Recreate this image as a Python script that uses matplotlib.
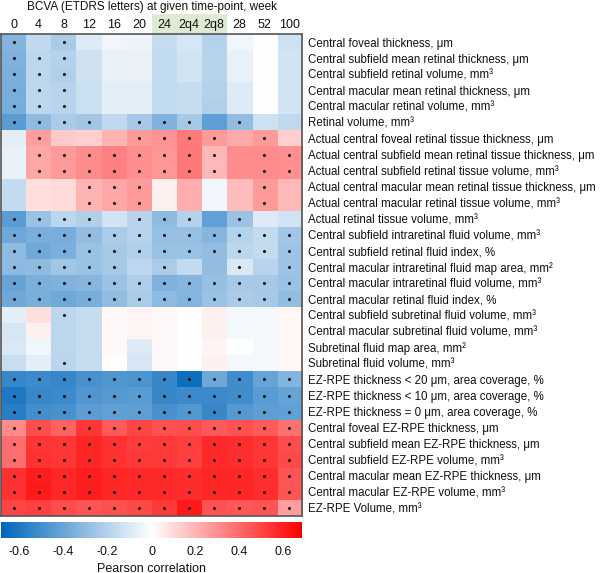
import numpy as np
import matplotlib.pyplot as plt
from matplotlib.colors import LinearSegmentedColormap
from matplotlib.patches import Rectangle

plt.rcParams['font.family'] = ['Liberation Sans', 'DejaVu Sans']

# time points (weeks) - 24/2q4/2q8 get the green header
weeks = ['0', '4', '8', '12', '16', '20', '24', '2q4', '2q8', '28', '52', '100']

# --- retinal thickness / volume ---
retina_labels = [
    'Central foveal thickness, μm',
    'Central subfield mean retinal thickness, μm',
    'Central subfield retinal volume, mm³',
    'Central macular mean retinal thickness, μm',
    'Central macular retinal volume, mm³',
    'Retinal volume, mm³',
]
retina_r = [
    [-0.33, -0.17, -0.23, -0.09, -0.04, -0.05, -0.15, -0.11, -0.20, -0.04, 0.01, -0.13],
    [-0.34, -0.18, -0.20, -0.13, -0.06, -0.06, -0.16, -0.12, -0.19, -0.06, 0.01, -0.12],
    [-0.35, -0.18, -0.21, -0.13, -0.06, -0.06, -0.16, -0.12, -0.19, -0.06, 0.01, -0.12],
    [-0.36, -0.18, -0.19, -0.14, -0.07, -0.07, -0.16, -0.15, -0.20, -0.09, -0.01, -0.12],
    [-0.36, -0.18, -0.19, -0.14, -0.07, -0.07, -0.16, -0.15, -0.21, -0.09, -0.01, -0.12],
    [-0.44, -0.30, -0.23, -0.25, -0.17, -0.24, -0.34, -0.24, -0.43, -0.29, -0.13, -0.17],
]
retina_sig = [[0, 2], [0, 1, 2], [0, 1, 2], [0, 1, 2], [0, 1, 2],
              [0, 1, 2, 3, 5, 6, 7, 9]]

# --- actual retinal tissue ---
tissue_labels = [
    'Actual central foveal retinal tissue thickness, μm',
    'Actual central subfield mean retinal tissue thickness, μm',
    'Actual central subfield retinal tissue volume, mm³',
    'Actual central macular mean retinal tissue thickness, μm',
    'Actual central macular retinal tissue volume, mm³',
    'Actual retinal tissue volume, mm³',
]
tissue_r = [
    [-0.07, 0.26, 0.14, 0.13, 0.20, 0.27, 0.29, 0.355, 0.27, 0.23, 0.27, 0.13],
    [-0.06, 0.24, 0.27, 0.31, 0.34, 0.30, 0.28, 0.36, 0.19, 0.31, 0.31, 0.30],
    [-0.06, 0.24, 0.27, 0.31, 0.34, 0.30, 0.28, 0.36, 0.19, 0.31, 0.31, 0.30],
    [-0.16, 0.09, 0.10, 0.20, 0.24, 0.27, 0.04, 0.22, -0.04, 0.18, 0.27, 0.19],
    [-0.16, 0.09, 0.10, 0.20, 0.24, 0.27, 0.04, 0.22, -0.04, 0.18, 0.27, 0.19],
    [-0.44, -0.27, -0.18, -0.21, -0.12, -0.19, -0.30, -0.20, -0.42, -0.27, -0.09, -0.12],
]
tissue_sig = [[1, 5, 6, 7, 8, 10],
              [1, 2, 3, 4, 5, 6, 7, 8, 10, 11],
              [1, 2, 3, 4, 5, 6, 7, 8, 10, 11],
              [3, 4, 5, 10], [3, 4, 5, 10],
              [0, 1, 2, 3, 5, 6, 7, 9]]

# --- intraretinal fluid ---
irf_labels = [
    'Central subfield intraretinal fluid volume, mm³',
    'Central subfield retinal fluid index, %',
    'Central macular intraretinal fluid map area, mm²',
    'Central macular intraretinal fluid volume, mm³',
    'Central macular retinal fluid index, %',
]
irf_r = [
    [-0.39, -0.355, -0.36, -0.29, -0.23, -0.19, -0.28, -0.28, -0.325, -0.20, -0.16, -0.25],
    [-0.30, -0.38, -0.35, -0.27, -0.24, -0.21, -0.27, -0.27, -0.29, -0.18, -0.16, -0.26],
    [-0.31, -0.30, -0.25, -0.27, -0.24, -0.18, -0.23, -0.16, -0.29, -0.10, -0.19, -0.26],
    [-0.41, -0.35, -0.34, -0.325, -0.27, -0.215, -0.34, -0.325, -0.28, -0.24, -0.24, -0.27],
    [-0.38, -0.355, -0.39, -0.36, -0.29, -0.23, -0.31, -0.33, -0.27, -0.23, -0.24, -0.29],
]
irf_sig = [list(range(12)), list(range(12)), [0, 1, 2, 3, 4, 6, 9, 11],
           list(range(12)), list(range(12))]

# --- subretinal fluid ---
srf_labels = [
    'Central subfield subretinal fluid volume, mm³',
    'Central macular subretinal fluid volume, mm³',
    'Subretinal fluid map area, mm²',
    'Subretinal fluid volume, mm³',
]
srf_r = [
    [-0.07, 0.09, -0.18, -0.15, 0.02, 0.03, 0.02, 0.0, 0.04, -0.03, -0.03, 0.025],
    [-0.11, 0.04, -0.18, -0.15, 0.02, 0.03, 0.02, 0.0, 0.04, -0.03, -0.03, 0.025],
    [-0.10, -0.04, -0.18, -0.15, 0.02, -0.09, 0.02, 0.0, 0.03, 0.0, -0.03, 0.025],
    [-0.145, -0.07, -0.185, -0.15, 0.01, -0.11, 0.02, 0.0, 0.04, -0.03, -0.03, 0.025],
]
srf_sig = [[2], [], [], [2]]

# --- EZ-RPE ---
ez_labels = [
    'EZ-RPE thickness < 20 μm, area coverage, %',
    'EZ-RPE thickness < 10 μm, area coverage, %',
    'EZ-RPE thickness = 0 μm, area coverage, %',
    'Central foveal EZ-RPE thickness, μm',
    'Central subfield mean EZ-RPE thickness, μm',
    'Central subfield EZ-RPE volume, mm³',
    'Central macular mean EZ-RPE thickness, μm',
    'Central macular EZ-RPE volume, mm³',
    'EZ-RPE Volume, mm³',
]
ez_r = [
    [-0.53, -0.52, -0.54, -0.49, -0.47, -0.48, -0.53, -0.645, -0.39, -0.51, -0.41, -0.33],
    [-0.60, -0.53, -0.52, -0.47, -0.45, -0.44, -0.53, -0.52, -0.52, -0.505, -0.44, -0.41],
    [-0.575, -0.50, -0.49, -0.435, -0.42, -0.43, -0.49, -0.465, -0.53, -0.45, -0.43, -0.42],
    [0.315, 0.48, 0.42, 0.54, 0.44, 0.50, 0.47, 0.48, 0.44, 0.465, 0.44, 0.38],
    [0.39, 0.545, 0.54, 0.58, 0.55, 0.52, 0.53, 0.515, 0.57, 0.56, 0.54, 0.48],
    [0.39, 0.55, 0.54, 0.58, 0.55, 0.525, 0.525, 0.51, 0.57, 0.56, 0.54, 0.485],
    [0.555, 0.61, 0.575, 0.60, 0.58, 0.57, 0.57, 0.565, 0.58, 0.58, 0.56, 0.46],
    [0.55, 0.615, 0.58, 0.61, 0.58, 0.57, 0.57, 0.565, 0.58, 0.58, 0.565, 0.46],
    [0.50, 0.51, 0.48, 0.46, 0.47, 0.485, 0.535, 0.615, 0.465, 0.45, 0.46, 0.26],
]
ez_sig = [list(range(12))] * 9

labels = retina_labels + tissue_labels + irf_labels + srf_labels + ez_labels
corr = np.array(retina_r + tissue_r + irf_r + srf_r + ez_r)
sig = retina_sig + tissue_sig + irf_sig + srf_sig + ez_sig

cmap = LinearSegmentedColormap.from_list('bwr2', ['#0066bb', '#ffffff', '#ff0000'])
vlim = 0.685

fig = plt.figure(figsize=(6.0, 5.73), dpi=100)
W, H = 600, 573
ax = fig.add_axes([1 / W, (H - 516) / H, 301 / W, 482 / H])

im = ax.imshow(corr, cmap=cmap, vmin=-vlim, vmax=vlim, aspect='auto',
               interpolation='nearest')

# significance dots
for i, cols in enumerate(sig):
    ax.scatter(cols, [i] * len(cols), s=5, color='#111111', linewidths=0, zorder=3)

ax.set_xlim(-0.5, len(weeks) - 0.5)
ax.set_ylim(len(labels) - 0.5, -0.5)

ax.xaxis.tick_top()
ax.set_xticks(range(len(weeks)))
ax.set_xticklabels(weeks, fontsize=9, color='#111111')
ax.tick_params(axis='x', length=0, pad=2)

ax.yaxis.tick_right()
ax.set_yticks(range(len(labels)))
ax.set_yticklabels(labels, fontsize=8.3, color='#111111')
ax.tick_params(axis='y', length=0, pad=4)

for sp in ax.spines.values():
    sp.set_color('#555555')
    sp.set_linewidth(1.2)

# green header behind 24 / 2q4 / 2q8
ax.add_patch(Rectangle((6 / 12, 1.0), 3 / 12, 20 / 482, transform=ax.transAxes,
                       facecolor='#dcebd4', edgecolor='none', clip_on=False, zorder=0))

fig.text(152 / W, 1 - 7 / H, 'BCVA (ETDRS letters) at given time-point, week',
         ha='center', va='center', fontsize=8.5, color='#111111')

# colorbar
cax = fig.add_axes([1 / W, (H - 538) / H, 301 / W, 16 / H])
cb = fig.colorbar(im, cax=cax, orientation='horizontal')
cb.outline.set_visible(False)
ticks = [-0.6, -0.4, -0.2, 0, 0.2, 0.4, 0.6]
cb.set_ticks(ticks)
cb.set_ticklabels(['-0.6', '-0.4', '-0.2', '0', '0.2', '0.4', '0.6'])
cax.tick_params(length=0, pad=6, labelsize=9, labelcolor='#111111')
cb.set_label('Pearson correlation', fontsize=9, color='#111111', labelpad=3)

fig.savefig('out.png', dpi=100)
